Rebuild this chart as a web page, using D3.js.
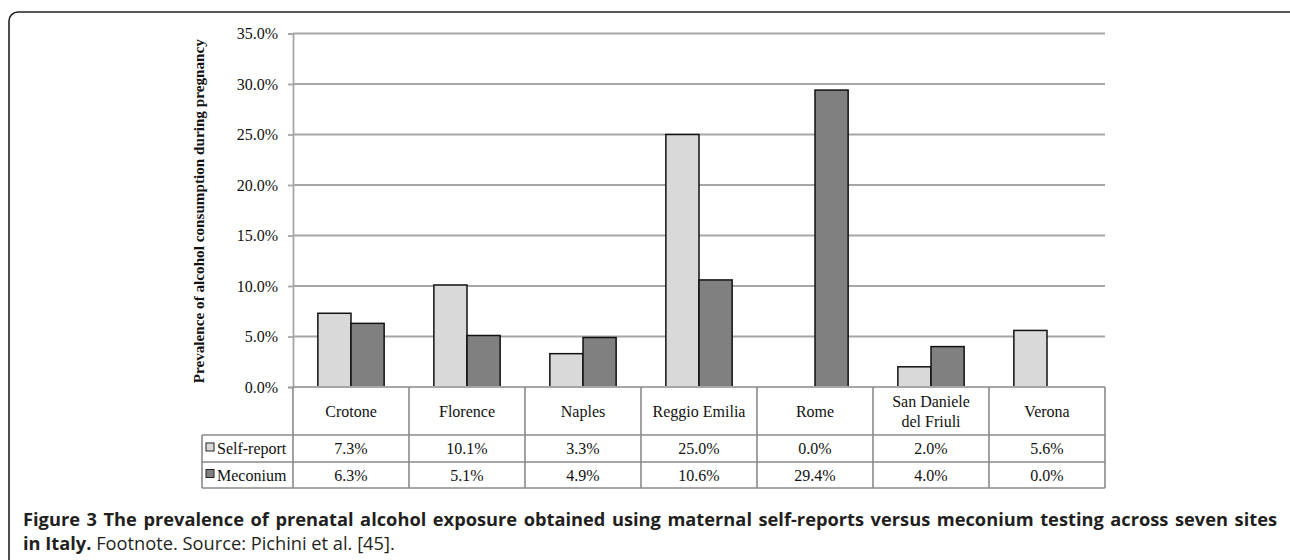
<!DOCTYPE html>
<html>
<head>
<meta charset="utf-8">
<script src="https://cdn.jsdelivr.net/npm/d3@7"></script>
<style>
  html, body { margin: 0; padding: 0; background: #fff; }
  svg { display: block; }
</style>
</head>
<body>
<svg id="chart" width="1290" height="560"></svg>
<script>
// Sites and prevalence values (%)
const sites = ["Crotone", "Florence", "Naples", "Reggio Emilia", "Rome", "San Daniele del Friuli", "Verona"];
const siteLines = [["Crotone"], ["Florence"], ["Naples"], ["Reggio Emilia"], ["Rome"], ["San Daniele", "del Friuli"], ["Verona"]];
const selfReport = [7.3, 10.1, 3.3, 25.0, 0.0, 2.0, 5.6];
const meconium = [6.3, 5.1, 4.9, 10.6, 29.4, 4.0, 0.0];
const seriesNames = ["Self-report", "Meconium"];
const yTicks = [0, 5, 10, 15, 20, 25, 30, 35];
const yTitle = "Prevalence of alcohol consumption during pregnancy";
const captionBold1 = "Figure 3 The prevalence of prenatal alcohol exposure obtained using maternal self-reports versus meconium testing across seven sites";
const captionBold2 = "in Italy.";
const captionRest = " Footnote. Source: Pichini et al. [45].";

const svg = d3.select("#chart");
const serif = "'Liberation Serif', 'Times New Roman', serif";
const sans = "'Open Sans', 'Noto Sans', sans-serif";
const fills = ["#d9d9d9", "#808080"];
const gridColor = "#a6a6a6";
const tableColor = "#8a8a8a";
const textColor = "#111";
const fs = 16;

// Figure frame with rounded corners
svg.append("rect")
  .attr("x", 9).attr("y", 12)
  .attr("width", 1290).attr("height", 600)
  .attr("rx", 9).attr("ry", 9)
  .attr("fill", "none").attr("stroke", "#222").attr("stroke-width", 1.6);

const plotL = 293, plotR = 1105, plotT = 33.5, plotB = 387;
const x = d3.scaleBand().domain(sites).range([plotL, plotR]).padding(0);
const y = d3.scaleLinear().domain([0, 35]).range([plotB, plotT]);

// Gridlines
svg.append("g").selectAll("line").data(yTicks.filter(d => d > 0)).join("line")
  .attr("x1", plotL).attr("x2", plotR)
  .attr("y1", d => y(d)).attr("y2", d => y(d))
  .attr("stroke", gridColor).attr("stroke-width", 1.8);

// Y axis
const yAxis = d3.axisLeft(y).tickValues(yTicks).tickSize(5).tickPadding(10)
  .tickFormat(d => d3.format(".1f")(d) + "%");
const gy = svg.append("g").attr("transform", `translate(${plotL},0)`).call(yAxis);
gy.select(".domain").attr("stroke", gridColor).attr("stroke-width", 1.8);
gy.selectAll(".tick line").attr("stroke", gridColor).attr("stroke-width", 1.8);
gy.selectAll(".tick text").attr("font-family", serif).attr("font-size", fs).attr("fill", textColor);

// Y axis title
svg.append("text")
  .attr("transform", `translate(204,${(plotT + plotB) / 2 + 1}) rotate(-90)`)
  .attr("text-anchor", "middle")
  .attr("font-family", serif).attr("font-weight", "bold").attr("font-size", 15.2)
  .attr("fill", textColor)
  .text(yTitle);

// Bars
const step = x.bandwidth();
const bw = step / 3.5;
const series = [selfReport, meconium];
const barData = [];
series.forEach((vals, si) => vals.forEach((v, i) => { if (v > 0) barData.push({ site: sites[i], v, si }); }));
svg.append("g").selectAll("rect").data(barData).join("rect")
  .attr("x", d => x(d.site) + 0.75 * bw + d.si * bw)
  .attr("y", d => y(d.v))
  .attr("width", bw)
  .attr("height", d => y(0) - y(d.v))
  .attr("fill", d => fills[d.si])
  .attr("stroke", "#111").attr("stroke-width", 1.5);

// Baseline
svg.append("line").attr("x1", plotL).attr("x2", plotR).attr("y1", y(0)).attr("y2", y(0))
  .attr("stroke", gridColor).attr("stroke-width", 1.8);

// Data table
const rowCat = 435, rowSelf = 462, rowMec = 488, legL = 202;
const tg = svg.append("g").attr("stroke", tableColor).attr("stroke-width", 1.6).attr("fill", "none");
const seps = sites.map(s => x(s)).concat([plotR]);
tg.selectAll("line.v").data(seps).join("line").attr("class", "v")
  .attr("x1", d => d).attr("x2", d => d).attr("y1", plotB).attr("y2", rowMec);
[[legL, rowCat, plotR], [legL, rowSelf, plotR], [legL, rowMec, plotR]].forEach(([a, yy, b]) => {
  tg.append("line").attr("x1", a).attr("x2", b).attr("y1", yy).attr("y2", yy);
});
tg.append("line").attr("x1", legL).attr("x2", legL).attr("y1", rowCat).attr("y2", rowMec);

// Category labels
const catG = svg.append("g").attr("font-family", serif).attr("font-size", fs).attr("fill", textColor).attr("text-anchor", "middle");
siteLines.forEach((lines, i) => {
  const cx = x(sites[i]) + step / 2;
  const cy = (plotB + rowCat) / 2 + 5.5;
  lines.forEach((ln, j) => {
    catG.append("text").attr("x", cx).attr("y", cy + (j - (lines.length - 1) / 2) * 20).text(ln);
  });
});

// Value rows with legend keys
const rows = [{ vals: selfReport, yy: (rowCat + rowSelf) / 2 + 5.5 }, { vals: meconium, yy: (rowSelf + rowMec) / 2 + 5.5 }];
rows.forEach((r, si) => {
  catG.selectAll(null).data(r.vals).join("text")
    .attr("x", (d, i) => x(sites[i]) + step / 2)
    .attr("y", r.yy)
    .text(d => d3.format(".1f")(d) + "%");
  svg.append("rect").attr("x", 206).attr("y", r.yy - 11).attr("width", 8).attr("height", 8)
    .attr("fill", fills[si]).attr("stroke", "#222").attr("stroke-width", 1);
  svg.append("text").attr("x", 217).attr("y", r.yy)
    .attr("font-family", serif).attr("font-size", fs).attr("fill", textColor)
    .text(seriesNames[si]);
});

// Caption: first line justified to the frame width
const capX = 23, capRight = 1277;
const cap1 = svg.append("text").attr("x", capX).attr("y", 526)
  .attr("font-family", sans).attr("font-weight", "bold").attr("font-size", 16).attr("fill", "#231f20")
  .text(captionBold1);
const w16 = cap1.node().getComputedTextLength();
const capFs = Math.min(18.5, 16 * (capRight - capX - 30) / w16);
cap1.attr("font-size", capFs);
const w = cap1.node().getComputedTextLength();
const gaps = captionBold1.split(" ").length - 1;
cap1.attr("word-spacing", Math.max(0, (capRight - capX - w) / gaps));
const cap2 = svg.append("text").attr("x", capX).attr("y", 550)
  .attr("font-family", sans).attr("font-size", capFs).attr("fill", "#231f20");
cap2.append("tspan").attr("font-weight", "bold").text(captionBold2);
cap2.append("tspan").text(captionRest);
</script>
</body>
</html>
